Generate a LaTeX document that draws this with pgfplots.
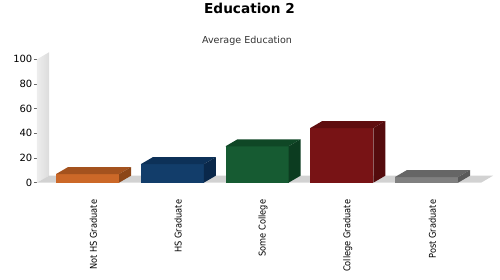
\documentclass[border=0pt]{standalone}
\usepackage{fontspec}
\setmainfont{DejaVu Sans}
\newfontfamily\labelfont[FakeStretch=0.88]{DejaVu Sans}
\usepackage{pgfplots}
\usepackage{pgfplotstable}
\pgfplotsset{compat=1.18}

% share of respondents by education level
\pgfplotstableread{
x y
0 7.0
1 15.0
2 29.5
3 44.3
4 4.6
}\edu

% front / top / side shades of each box
\definecolor{front0}{RGB}{204,104,40}
\definecolor{top0}{RGB}{164,82,30}
\definecolor{side0}{RGB}{140,70,24}
\definecolor{front1}{RGB}{18,61,106}
\definecolor{top1}{RGB}{13,49,88}
\definecolor{side1}{RGB}{10,40,74}
\definecolor{front2}{RGB}{22,91,50}
\definecolor{top2}{RGB}{15,71,38}
\definecolor{side2}{RGB}{12,60,32}
\definecolor{front3}{RGB}{120,19,21}
\definecolor{top3}{RGB}{95,13,15}
\definecolor{side3}{RGB}{84,11,13}
\definecolor{front4}{RGB}{128,128,128}
\definecolor{top4}{RGB}{102,102,102}
\definecolor{side4}{RGB}{90,90,90}
\definecolor{floorgray}{RGB}{210,210,210}
\definecolor{wallgray}{RGB}{220,220,220}

\begin{document}
\begin{tikzpicture}
\path[use as bounding box] (0,0) rectangle (500bp,280bp);
\node[font=\bfseries\fontsize{13.7}{16}\selectfont, anchor=base] at (249.5bp,266bp) {Education 2};
\node[font=\fontsize{9.6}{11}\selectfont, text=black!80, anchor=base] at (247bp,236bp) {Average Education};
\begin{axis}[
  scale only axis,
  width=444bp, height=123.4bp,
  at={(37bp,97.3bp)}, anchor=south west,
  xmin=-0.596, xmax=4.643,
  ymin=0, ymax=100,
  clip=false,
  axis line style={draw=none},
  ytick={0,20,40,60,80,100},
  ytick pos=left,
  tick align=outside,
  major tick length=3bp,
  ytick style={black!60, line width=0.5bp},
  yticklabel style={font=\fontsize{10}{12}\selectfont, inner sep=1.5bp},
  /pgf/number format/assume math mode=true,
  xtick={0.07,1.07,2.07,3.07,4.07},
  xticklabels={Not HS Graduate,HS Graduate,Some College,College Graduate,Post Graduate},
  xtick style={draw=none},
  xticklabel style={rotate=90, anchor=east, inner sep=0pt,
    font=\labelfont\fontsize{9.4}{11}\selectfont},
  xticklabel shift=14bp,
]
% back wall and floor
\addplot[draw=none, left color=white!93!black, right color=wallgray]
  coordinates {(-0.596,0) (-0.596,100) (-0.4544,105.67) (-0.4544,5.67)} -- cycle;
\addplot[fill=floorgray, draw=none]
  coordinates {(-0.596,0) (4.643,0) (4.785,5.67) (-0.4544,5.67)} -- cycle;
% boxes: front face as bars, then top and side faces
\pgfplotsinvokeforeach{0,...,4}{
  \pgfplotstablegetelem{#1}{y}\of\edu
  \edef\v{\pgfplotsretval}
  \addplot[ybar, bar width=63bp, fill=front#1, draw=none]
    coordinates {(#1,\v)};
  \addplot[fill=top#1, draw=none]
    coordinates {(#1-0.3717,\v) (#1+0.3717,\v) (#1+0.5133,\v+5.67) (#1-0.2301,\v+5.67)} -- cycle;
  \addplot[fill=side#1, draw=none]
    coordinates {(#1+0.3717,0) (#1+0.3717,\v) (#1+0.5133,\v+5.67) (#1+0.5133,5.67)} -- cycle;
}
\end{axis}
\end{tikzpicture}
\end{document}
